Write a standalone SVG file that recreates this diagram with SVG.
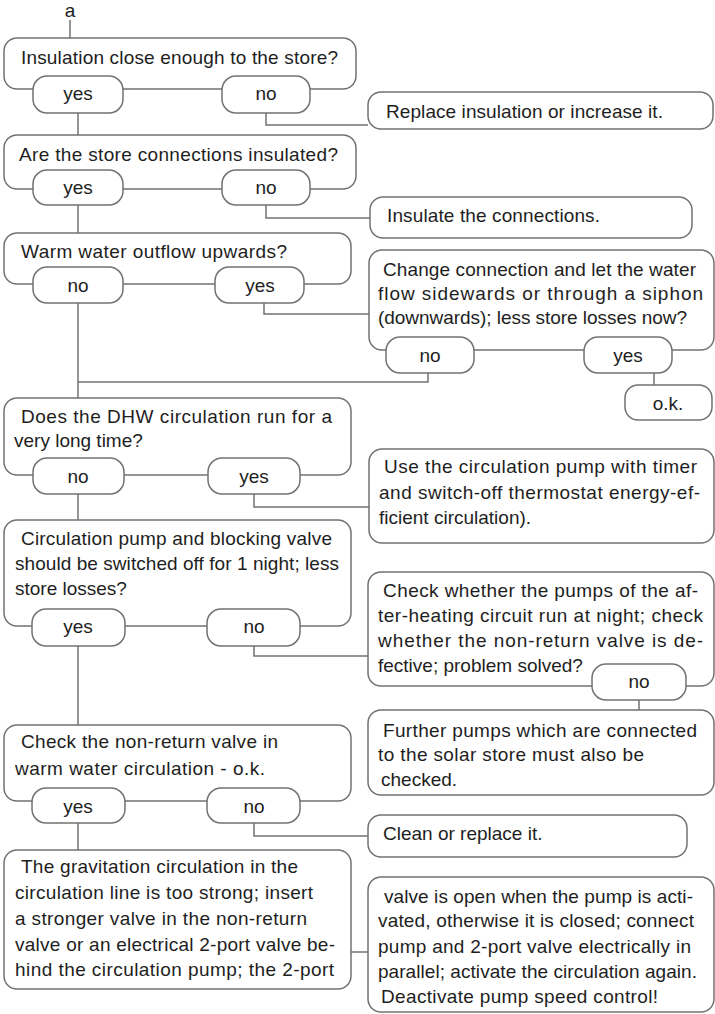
<svg xmlns="http://www.w3.org/2000/svg" width="715" height="1014" viewBox="0 0 715 1014">
<style>
.b{fill:#fff;stroke:#727272;stroke-width:1.5}
.p{fill:#fff;stroke:#727272;stroke-width:1.5}
.c{fill:none;stroke:#727272;stroke-width:1.5}
text{font-family:"Liberation Sans",Arial,sans-serif;font-size:19px;fill:#1e1e1e}
.m{text-anchor:middle}
</style>
<rect width="715" height="1014" fill="#fff"/>
<g id="connectors">
<polyline class="c" points="70,20 70,38"/>
<polyline class="c" points="78,113 78,135"/>
<polyline class="c" points="266,113 266,125 368,125"/>
<polyline class="c" points="78,205 78,233"/>
<polyline class="c" points="266,205 266,218 370,218"/>
<polyline class="c" points="264,303 264,314 369,314"/>
<polyline class="c" points="78,303 78,398"/>
<polyline class="c" points="428,373 428,382 78,382"/>
<polyline class="c" points="654,373 654,385"/>
<polyline class="c" points="254,494 254,507 369,507"/>
<polyline class="c" points="78,494 78,520"/>
<polyline class="c" points="254,646 254,656 368,656"/>
<polyline class="c" points="78,646 78,725"/>
<polyline class="c" points="639,700 639,710"/>
<polyline class="c" points="254,823 254,836 368,836"/>
<polyline class="c" points="78,823 78,850"/>
<polyline class="c" points="351,952 368,952"/>
</g>
<g id="start"><text x="70" y="17" class="m">a</text></g>
<g id="q1">
<rect class="b" x="4" y="38" width="352" height="51" rx="13"/>
<text x="21" y="64" textLength="317">Insulation close enough to the store?</text>
<rect class="p" x="33" y="76" width="90" height="37" rx="14"/><text x="78" y="100" class="m">yes</text>
<rect class="p" x="222" y="76" width="88" height="37" rx="14"/><text x="266" y="100" class="m">no</text>
</g>
<g id="a1">
<rect class="b" x="368" y="92" width="345" height="37" rx="13"/>
<text x="386" y="118" textLength="277">Replace insulation or increase it.</text>
</g>
<g id="q2">
<rect class="b" x="4" y="135" width="352" height="54" rx="13"/>
<text x="19" y="161" textLength="319">Are the store connections insulated?</text>
<rect class="p" x="33" y="170" width="90" height="35" rx="14"/><text x="78" y="194" class="m">yes</text>
<rect class="p" x="222" y="170" width="88" height="35" rx="14"/><text x="266" y="194" class="m">no</text>
</g>
<g id="a2">
<rect class="b" x="370" y="197" width="322" height="41" rx="13"/>
<text x="387" y="222" textLength="213">Insulate the connections.</text>
</g>
<g id="q3">
<rect class="b" x="4" y="233" width="347" height="51" rx="13"/>
<text x="21" y="258" textLength="266">Warm water outflow upwards?</text>
<rect class="p" x="33" y="267" width="90" height="36" rx="14"/><text x="78" y="292" class="m">no</text>
<rect class="p" x="215" y="267" width="89" height="36" rx="14"/><text x="260" y="292" class="m">yes</text>
</g>
<g id="q3b">
<rect class="b" x="369" y="250" width="345" height="100" rx="13"/>
<text x="383" y="276" textLength="313">Change connection and let the water</text>
<text x="378" y="300" textLength="325">flow sidewards or through a siphon</text>
<text x="378" y="324" textLength="309">(downwards); less store losses now?</text>
<rect class="p" x="386" y="337" width="88" height="36" rx="14"/><text x="430" y="362" class="m">no</text>
<rect class="p" x="584" y="337" width="88" height="36" rx="14"/><text x="628" y="362" class="m">yes</text>
</g>
<g id="ok">
<rect class="b" x="625" y="385" width="87" height="35" rx="13"/>
<text x="668" y="410" class="m">o.k.</text>
</g>
<g id="q4">
<rect class="b" x="4" y="398" width="347" height="77" rx="13"/>
<text x="21" y="423" textLength="311">Does the DHW circulation run for a</text>
<text x="14" y="447">very long time?</text>
<rect class="p" x="33" y="458" width="91" height="36" rx="14"/><text x="78" y="483" class="m">no</text>
<rect class="p" x="208" y="458" width="92" height="36" rx="14"/><text x="254" y="483" class="m">yes</text>
</g>
<g id="a4">
<rect class="b" x="369" y="449" width="345" height="94" rx="13"/>
<text x="384" y="473" textLength="313">Use the circulation pump with timer</text>
<text x="379" y="499" textLength="321">and switch-off thermostat energy-ef-</text>
<text x="379" y="524">ficient circulation).</text>
</g>
<g id="q5">
<rect class="b" x="4" y="520" width="347" height="106" rx="13"/>
<text x="21" y="545" textLength="311">Circulation pump and blocking valve</text>
<text x="15" y="570" textLength="324">should be switched off for 1 night; less</text>
<text x="15" y="595">store losses?</text>
<rect class="p" x="32" y="609" width="93" height="37" rx="14"/><text x="78" y="633" class="m">yes</text>
<rect class="p" x="207" y="609" width="93" height="37" rx="14"/><text x="254" y="633" class="m">no</text>
</g>
<g id="a5">
<rect class="b" x="368" y="572" width="346" height="114" rx="13"/>
<text x="383" y="597" textLength="315">Check whether the pumps of the af-</text>
<text x="378" y="622" textLength="325">ter-heating circuit run at night; check</text>
<text x="378" y="647" textLength="325">whether the non-return valve is de-</text>
<text x="378" y="672">fective; problem solved?</text>
<rect class="p" x="592" y="664" width="94" height="36" rx="14"/><text x="639" y="688" class="m">no</text>
</g>
<g id="a5b">
<rect class="b" x="368" y="710" width="346" height="85" rx="13"/>
<text x="383" y="737" textLength="314">Further pumps which are connected</text>
<text x="378" y="761" textLength="266">to the solar store must also be</text>
<text x="381" y="786">checked.</text>
</g>
<g id="q6">
<rect class="b" x="4" y="725" width="347" height="76" rx="13"/>
<text x="21" y="748" textLength="257">Check the non-return valve in</text>
<text x="15" y="775" textLength="250">warm water circulation - o.k.</text>
<rect class="p" x="32" y="788" width="93" height="35" rx="14"/><text x="78" y="813" class="m">yes</text>
<rect class="p" x="207" y="788" width="93" height="35" rx="14"/><text x="254" y="813" class="m">no</text>
</g>
<g id="a6">
<rect class="b" x="368" y="815" width="319" height="42" rx="13"/>
<text x="383" y="840">Clean or replace it.</text>
</g>
<g id="q7">
<rect class="b" x="4" y="850" width="347" height="139" rx="13"/>
<text x="21" y="873" textLength="277">The gravitation circulation in the</text>
<text x="15" y="899" textLength="298">circulation line is too strong; insert</text>
<text x="15" y="925" textLength="292">a stronger valve in the non-return</text>
<text x="15" y="951" textLength="320">valve or an electrical 2-port valve be-</text>
<text x="15" y="976" textLength="319">hind the circulation pump; the 2-port</text>
</g>
<g id="a7">
<rect class="b" x="368" y="877" width="346" height="135" rx="13"/>
<text x="384" y="903" textLength="309">valve is open when the pump is acti-</text>
<text x="378" y="927" textLength="316">vated, otherwise it is closed; connect</text>
<text x="378" y="953" textLength="313">pump and 2-port valve electrically in</text>
<text x="378" y="978" textLength="319">parallel; activate the circulation again.</text>
<text x="381" y="1003" textLength="277">Deactivate pump speed control!</text>
</g>
</svg>
